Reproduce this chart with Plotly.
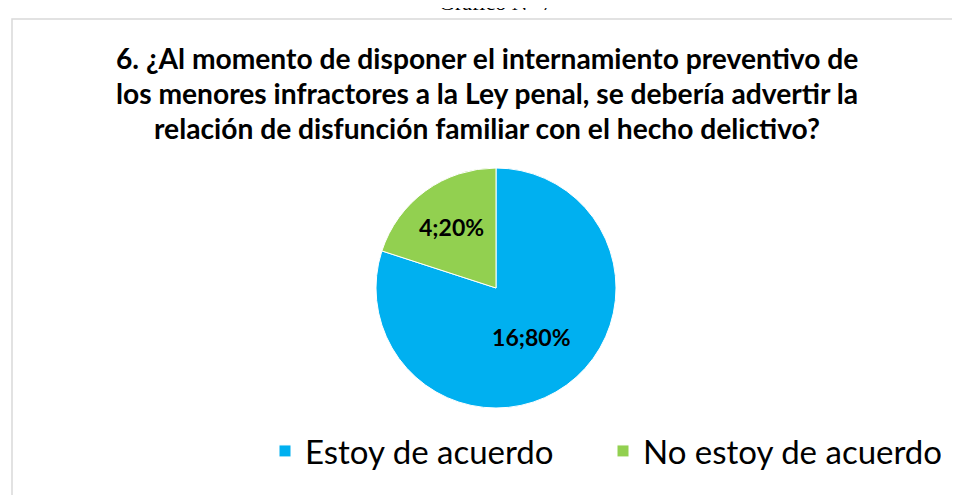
import plotly.graph_objects as go

# Data
categories = ["Estoy de acuerdo", "No estoy de acuerdo"]
counts = [16, 4]
colors = ["#00B0F0", "#92D050"]
title_lines = [
    "6. ¿Al momento de disponer el internamiento preventivo de",
    "los menores infractores a la Ley penal, se debería advertir la",
    "relación de disfunción familiar con el hecho delictivo?",
]
header_text = "Gráfico N° 7"

W, H = 960, 495

fig = go.Figure()
fig.add_trace(go.Pie(
    labels=categories,
    values=counts,
    sort=False,
    direction="clockwise",
    rotation=0,
    marker=dict(colors=colors, line=dict(color="white", width=1)),
    texttemplate="%{value};%{percent:.0%}",
    textposition="inside",
    insidetextorientation="horizontal",
    textfont=dict(family="Lato", size=23, color="black", weight="bold"),
    domain=dict(x=[368 / W, 608 / W], y=[95 / H, 335 / H]),
    showlegend=True,
    hoverinfo="label+value+percent",
))

title_y = [50, 85, 120]
annotations = [
    dict(text=line, x=479 / W, y=1 - yc / H,
         xref="paper", yref="paper", xanchor="center", yanchor="middle",
         showarrow=False, align="center",
         font=dict(family="Lato", size=28.2, color="black", weight="bold"))
    for line, yc in zip(title_lines, title_y)
]
annotations.append(
    dict(text=header_text, x=488 / W, y=1 - 9 / H,
         xref="paper", yref="paper", xanchor="center", yanchor="bottom",
         showarrow=False,
         font=dict(family="Liberation Serif", size=22, color="black"))
)

fig.update_layout(
    width=W, height=H,
    margin=dict(l=0, r=0, t=0, b=0),
    paper_bgcolor="white",
    plot_bgcolor="white",
    font=dict(family="Lato", color="black"),
    legend=dict(
        orientation="h",
        x=257 / W, xanchor="left",
        y=1 - 443 / H, yanchor="middle",
        font=dict(family="Lato", size=33, color="black"),
        entrywidth=293, entrywidthmode="pixels",
        traceorder="normal",
    ),
    shapes=[dict(
        type="rect", xref="paper", yref="paper",
        x0=4 / W, x1=1.2, y0=-0.2, y1=1 - 11 / H,
        line=dict(color="#D9D9D9", width=1.5), fillcolor="rgba(0,0,0,0)",
        layer="below",
    )],
    annotations=annotations,
)

fig.write_html("out.html")
